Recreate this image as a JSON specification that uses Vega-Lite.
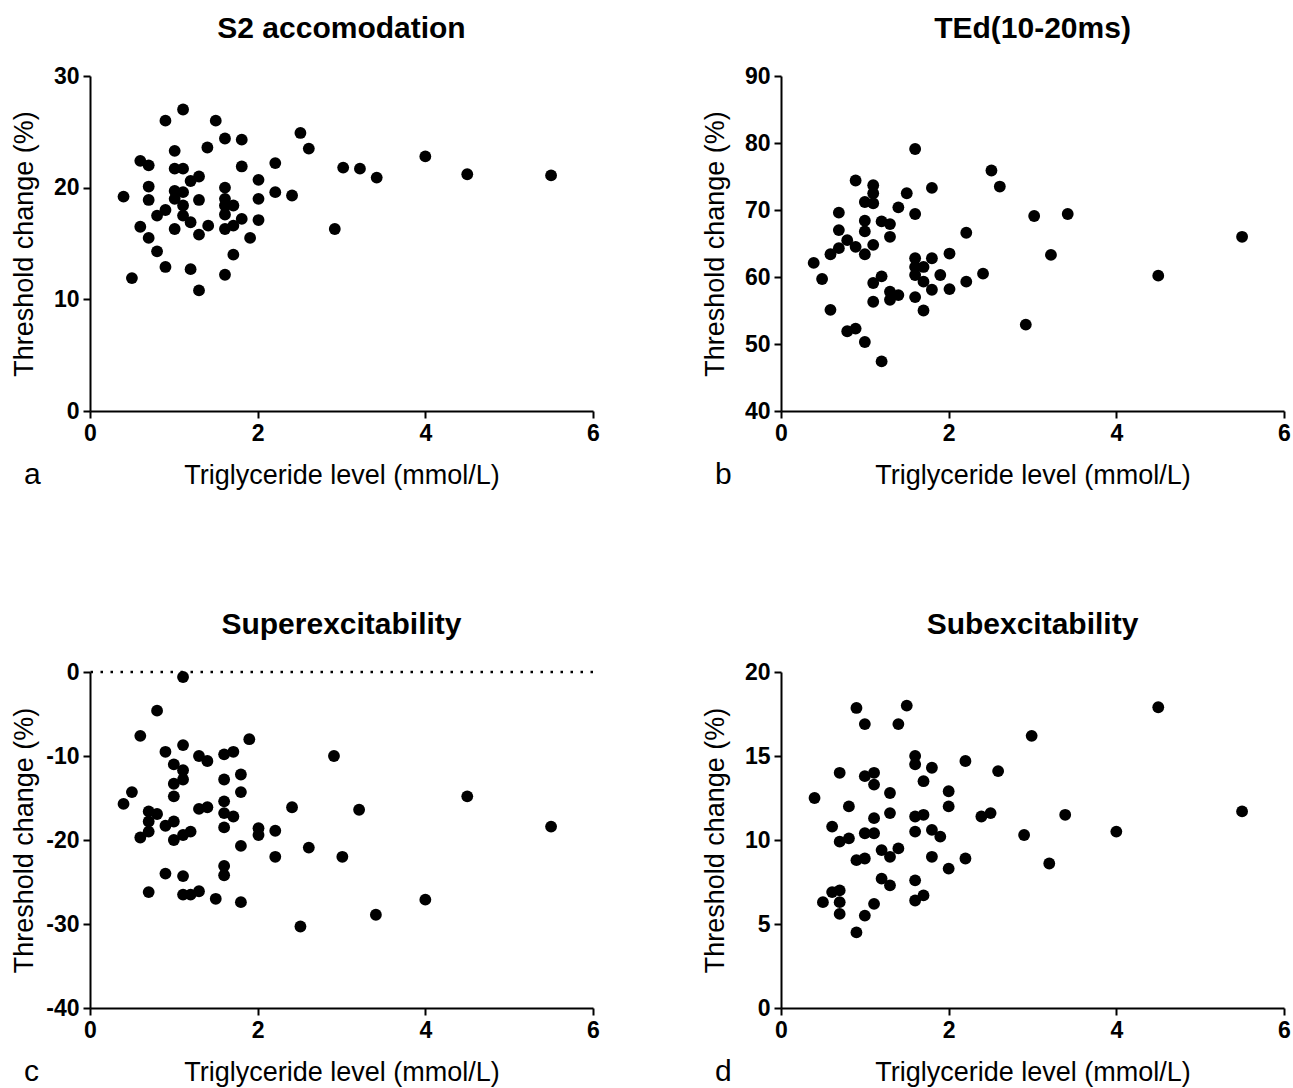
{
  "$schema": "https://vega.github.io/schema/vega-lite/v6.json",
  "background": "white",
  "padding": {"left": 10, "top": 14, "right": 0, "bottom": 0},
  "config": {
    "font": "Liberation Sans",
    "view": {"stroke": null},
    "axis": {
      "grid": false,
      "domainColor": "black",
      "domainWidth": 2,
      "tickColor": "black",
      "tickWidth": 2,
      "tickSize": 7,
      "labelFont": "Liberation Sans",
      "labelFontWeight": "bold",
      "labelFontSize": 23,
      "labelColor": "black",
      "labelPadding": 4,
      "labelFlush": false,
      "labelOverlap": false,
      "labelExpr": "'' + datum.value",
      "titleFont": "Liberation Sans",
      "titleFontWeight": "normal",
      "titleFontSize": 27,
      "titleColor": "black"
    },
    "axisX": {"titleY": 72, "titleBaseline": "alphabetic"},
    "axisY": {"titleX": -52},
    "title": {
      "font": "Liberation Sans",
      "fontSize": 30,
      "fontWeight": "bold",
      "color": "black",
      "baseline": "alphabetic",
      "offset": 21,
      "anchor": "middle"
    },
    "point": {"filled": true, "color": "black", "opacity": 1, "size": 140}
  },
  "datasets": {
    "a": [
      {"x": 1.11, "y": 27.0}, {"x": 0.90, "y": 26.0}, {"x": 1.50, "y": 26.0}, {"x": 1.61, "y": 24.4},
      {"x": 1.81, "y": 24.3}, {"x": 2.51, "y": 24.9}, {"x": 2.61, "y": 23.5}, {"x": 1.01, "y": 23.3},
      {"x": 1.40, "y": 23.6}, {"x": 0.60, "y": 22.4}, {"x": 0.70, "y": 22.0}, {"x": 1.01, "y": 21.7},
      {"x": 1.11, "y": 21.7}, {"x": 1.81, "y": 21.9}, {"x": 2.21, "y": 22.2}, {"x": 1.20, "y": 20.6},
      {"x": 1.30, "y": 21.0}, {"x": 2.01, "y": 20.7}, {"x": 3.02, "y": 21.8}, {"x": 3.22, "y": 21.7},
      {"x": 3.42, "y": 20.9}, {"x": 0.70, "y": 20.1}, {"x": 0.40, "y": 19.2}, {"x": 0.70, "y": 18.9},
      {"x": 1.01, "y": 19.7}, {"x": 1.11, "y": 19.6}, {"x": 1.01, "y": 19.0}, {"x": 1.11, "y": 18.4},
      {"x": 1.30, "y": 18.9}, {"x": 1.61, "y": 20.0}, {"x": 1.61, "y": 19.0}, {"x": 1.61, "y": 18.4},
      {"x": 1.71, "y": 18.4}, {"x": 1.61, "y": 17.6}, {"x": 2.01, "y": 19.0}, {"x": 2.21, "y": 19.6},
      {"x": 2.41, "y": 19.3}, {"x": 0.90, "y": 18.0}, {"x": 0.80, "y": 17.5}, {"x": 1.11, "y": 17.5},
      {"x": 1.20, "y": 16.9}, {"x": 1.41, "y": 16.6}, {"x": 0.60, "y": 16.5}, {"x": 1.01, "y": 16.3},
      {"x": 1.30, "y": 15.8}, {"x": 1.61, "y": 16.3}, {"x": 1.71, "y": 16.6}, {"x": 1.81, "y": 17.2},
      {"x": 2.01, "y": 17.1}, {"x": 1.91, "y": 15.5}, {"x": 0.70, "y": 15.5}, {"x": 0.80, "y": 14.3},
      {"x": 1.71, "y": 14.0}, {"x": 2.92, "y": 16.3}, {"x": 0.90, "y": 12.9}, {"x": 1.20, "y": 12.7},
      {"x": 1.61, "y": 12.2}, {"x": 0.50, "y": 11.9}, {"x": 1.30, "y": 10.8}, {"x": 4.0, "y": 22.8},
      {"x": 4.5, "y": 21.2}, {"x": 5.5, "y": 21.1}
    ],
    "b": [
      {"x": 1.60, "y": 79.1}, {"x": 2.51, "y": 75.9}, {"x": 2.61, "y": 73.5}, {"x": 0.89, "y": 74.4},
      {"x": 1.10, "y": 73.7}, {"x": 1.10, "y": 72.5}, {"x": 1.80, "y": 73.3}, {"x": 1.50, "y": 72.5},
      {"x": 1.00, "y": 71.2}, {"x": 1.10, "y": 71.0}, {"x": 1.40, "y": 70.4}, {"x": 0.69, "y": 69.6},
      {"x": 1.60, "y": 69.4}, {"x": 3.02, "y": 69.1}, {"x": 3.42, "y": 69.4}, {"x": 1.00, "y": 68.4},
      {"x": 1.20, "y": 68.3}, {"x": 1.30, "y": 67.9}, {"x": 1.00, "y": 66.8}, {"x": 0.69, "y": 67.0},
      {"x": 1.30, "y": 66.0}, {"x": 2.21, "y": 66.6}, {"x": 0.79, "y": 65.5}, {"x": 0.69, "y": 64.3},
      {"x": 0.89, "y": 64.5}, {"x": 1.00, "y": 63.4}, {"x": 1.10, "y": 64.8}, {"x": 0.59, "y": 63.4},
      {"x": 0.39, "y": 62.1}, {"x": 0.49, "y": 59.7}, {"x": 1.60, "y": 62.8}, {"x": 1.80, "y": 62.8},
      {"x": 2.01, "y": 63.5}, {"x": 1.60, "y": 61.5}, {"x": 1.70, "y": 61.5}, {"x": 1.60, "y": 60.3},
      {"x": 1.70, "y": 59.3}, {"x": 1.80, "y": 58.1}, {"x": 1.90, "y": 60.3}, {"x": 2.01, "y": 58.2},
      {"x": 2.21, "y": 59.3}, {"x": 2.41, "y": 60.5}, {"x": 3.22, "y": 63.3}, {"x": 1.20, "y": 60.1},
      {"x": 1.10, "y": 59.1}, {"x": 1.30, "y": 57.8}, {"x": 1.40, "y": 57.3}, {"x": 1.30, "y": 56.6},
      {"x": 1.10, "y": 56.3}, {"x": 1.60, "y": 57.0}, {"x": 1.70, "y": 55.0}, {"x": 0.59, "y": 55.1},
      {"x": 0.79, "y": 51.9}, {"x": 0.89, "y": 52.3}, {"x": 1.00, "y": 50.3}, {"x": 1.20, "y": 47.4},
      {"x": 2.92, "y": 52.9}, {"x": 4.5, "y": 60.2}, {"x": 5.5, "y": 66.0}
    ],
    "c": [
      {"x": 1.11, "y": -0.6}, {"x": 0.80, "y": -4.6}, {"x": 0.60, "y": -7.6}, {"x": 1.90, "y": -8.0},
      {"x": 0.90, "y": -9.5}, {"x": 1.11, "y": -8.7}, {"x": 1.30, "y": -10.0}, {"x": 1.40, "y": -10.6},
      {"x": 1.60, "y": -9.8}, {"x": 1.71, "y": -9.5}, {"x": 2.91, "y": -10.0}, {"x": 1.00, "y": -11.0},
      {"x": 1.11, "y": -11.7}, {"x": 1.11, "y": -12.8}, {"x": 1.00, "y": -13.3}, {"x": 1.00, "y": -14.8},
      {"x": 1.60, "y": -12.8}, {"x": 1.80, "y": -12.2}, {"x": 1.80, "y": -14.3}, {"x": 0.50, "y": -14.3},
      {"x": 0.40, "y": -15.7}, {"x": 1.60, "y": -15.4}, {"x": 1.30, "y": -16.3}, {"x": 1.40, "y": -16.1},
      {"x": 1.60, "y": -16.8}, {"x": 1.71, "y": -17.2}, {"x": 1.60, "y": -18.5}, {"x": 0.70, "y": -16.6},
      {"x": 0.80, "y": -16.9}, {"x": 0.70, "y": -17.8}, {"x": 0.70, "y": -19.0}, {"x": 0.60, "y": -19.7},
      {"x": 0.90, "y": -18.3}, {"x": 1.00, "y": -17.8}, {"x": 1.11, "y": -19.4}, {"x": 1.20, "y": -19.0},
      {"x": 1.00, "y": -20.0}, {"x": 2.41, "y": -16.1}, {"x": 3.21, "y": -16.4}, {"x": 2.01, "y": -18.6},
      {"x": 2.01, "y": -19.4}, {"x": 2.21, "y": -18.9}, {"x": 1.80, "y": -20.7}, {"x": 2.61, "y": -20.9},
      {"x": 2.21, "y": -22.0}, {"x": 3.01, "y": -22.0}, {"x": 1.60, "y": -23.1}, {"x": 1.60, "y": -24.2},
      {"x": 0.90, "y": -24.0}, {"x": 1.11, "y": -24.3}, {"x": 0.70, "y": -26.2}, {"x": 1.11, "y": -26.5},
      {"x": 1.20, "y": -26.5}, {"x": 1.30, "y": -26.1}, {"x": 1.50, "y": -27.0}, {"x": 1.80, "y": -27.4},
      {"x": 2.51, "y": -30.3}, {"x": 3.41, "y": -28.9}, {"x": 4.0, "y": -27.1}, {"x": 4.5, "y": -14.8},
      {"x": 5.5, "y": -18.4}
    ],
    "d": [
      {"x": 0.90, "y": 17.86}, {"x": 1.50, "y": 18.0}, {"x": 1.00, "y": 16.9}, {"x": 1.40, "y": 16.9},
      {"x": 2.99, "y": 16.2}, {"x": 1.60, "y": 15.0}, {"x": 1.60, "y": 14.5}, {"x": 1.80, "y": 14.3},
      {"x": 2.20, "y": 14.7}, {"x": 2.59, "y": 14.1}, {"x": 0.70, "y": 14.0}, {"x": 1.00, "y": 13.8},
      {"x": 1.11, "y": 14.0}, {"x": 1.11, "y": 13.3}, {"x": 1.70, "y": 13.5}, {"x": 1.30, "y": 12.8},
      {"x": 2.00, "y": 12.9}, {"x": 0.40, "y": 12.5}, {"x": 0.81, "y": 12.0}, {"x": 2.00, "y": 12.0},
      {"x": 1.11, "y": 11.3}, {"x": 1.30, "y": 11.6}, {"x": 1.60, "y": 11.4}, {"x": 1.70, "y": 11.5},
      {"x": 2.39, "y": 11.4}, {"x": 2.50, "y": 11.6}, {"x": 3.39, "y": 11.5}, {"x": 0.61, "y": 10.8},
      {"x": 1.60, "y": 10.5}, {"x": 1.80, "y": 10.6}, {"x": 1.90, "y": 10.2}, {"x": 1.00, "y": 10.4},
      {"x": 1.11, "y": 10.4}, {"x": 0.70, "y": 9.9}, {"x": 0.81, "y": 10.1}, {"x": 2.90, "y": 10.3},
      {"x": 1.20, "y": 9.4}, {"x": 1.40, "y": 9.5}, {"x": 1.30, "y": 9.0}, {"x": 0.90, "y": 8.8},
      {"x": 1.00, "y": 8.9}, {"x": 1.80, "y": 9.0}, {"x": 2.20, "y": 8.9}, {"x": 2.00, "y": 8.3},
      {"x": 3.20, "y": 8.6}, {"x": 1.20, "y": 7.7}, {"x": 1.30, "y": 7.3}, {"x": 1.60, "y": 7.6},
      {"x": 1.60, "y": 6.4}, {"x": 1.70, "y": 6.7}, {"x": 0.61, "y": 6.9}, {"x": 0.70, "y": 7.0},
      {"x": 0.50, "y": 6.3}, {"x": 0.70, "y": 6.3}, {"x": 0.70, "y": 5.6}, {"x": 1.11, "y": 6.2},
      {"x": 1.00, "y": 5.5}, {"x": 0.90, "y": 4.5}, {"x": 4.5, "y": 17.9}, {"x": 5.5, "y": 11.7},
      {"x": 4.0, "y": 10.5}
    ]
  },
  "vconcat": [
    {
      "hconcat": [
        {
          "title": {"text": "a", "orient": "bottom", "anchor": "start", "frame": "bounds", "fontSize": 30, "fontWeight": "normal", "baseline": "alphabetic", "offset": -4, "dx": 14},
          "vconcat": [
            {
              "title": "S2 accomodation",
              "width": 503,
              "height": 335,
              "data": {"name": "a"},
              "mark": {"type": "point"},
              "encoding": {
                "x": {"field": "x", "type": "quantitative", "scale": {"domain": [0, 6], "nice": false}, "axis": {"values": [0, 2, 4, 6], "title": "Triglyceride level (mmol/L)"}},
                "y": {"field": "y", "type": "quantitative", "scale": {"domain": [0, 30], "nice": false}, "axis": {"values": [0, 10, 20, 30], "title": "Threshold change (%)"}}
              }
            }
          ]
        },
        {
          "title": {"text": "b", "orient": "bottom", "anchor": "start", "frame": "bounds", "fontSize": 30, "fontWeight": "normal", "baseline": "alphabetic", "offset": -4, "dx": 14},
          "vconcat": [
            {
              "title": "TEd(10-20ms)",
              "width": 503,
              "height": 335,
              "data": {"name": "b"},
              "mark": {"type": "point"},
              "encoding": {
                "x": {"field": "x", "type": "quantitative", "scale": {"domain": [0, 6], "nice": false}, "axis": {"values": [0, 2, 4, 6], "title": "Triglyceride level (mmol/L)"}},
                "y": {"field": "y", "type": "quantitative", "scale": {"domain": [40, 90], "nice": false, "zero": false}, "axis": {"values": [40, 50, 60, 70, 80, 90], "title": "Threshold change (%)"}}
              }
            }
          ]
        }
      ],
      "spacing": 101
    },
    {
      "hconcat": [
        {
          "title": {"text": "c", "orient": "bottom", "anchor": "start", "frame": "bounds", "fontSize": 30, "fontWeight": "normal", "baseline": "alphabetic", "offset": -4, "dx": 14},
          "vconcat": [
            {
              "title": "Superexcitability",
              "width": 503,
              "height": 336,
              "layer": [
                {
                  "data": {"values": [{"ref": 0}]},
                  "mark": {"type": "rule", "color": "black", "strokeWidth": 2.5, "strokeDash": [2.5, 7.5]},
                  "encoding": {"y": {"field": "ref", "type": "quantitative"}}
                },
                {
                  "data": {"name": "c"},
                  "mark": {"type": "point"},
                  "encoding": {
                    "x": {"field": "x", "type": "quantitative", "scale": {"domain": [0, 6], "nice": false}, "axis": {"values": [0, 2, 4, 6], "title": "Triglyceride level (mmol/L)"}},
                    "y": {"field": "y", "type": "quantitative", "scale": {"domain": [-40, 0], "nice": false}, "axis": {"values": [-40, -30, -20, -10, 0], "title": "Threshold change (%)"}}
                  }
                }
              ]
            }
          ]
        },
        {
          "title": {"text": "d", "orient": "bottom", "anchor": "start", "frame": "bounds", "fontSize": 30, "fontWeight": "normal", "baseline": "alphabetic", "offset": -4, "dx": 14},
          "vconcat": [
            {
              "title": "Subexcitability",
              "width": 503,
              "height": 336,
              "data": {"name": "d"},
              "mark": {"type": "point"},
              "encoding": {
                "x": {"field": "x", "type": "quantitative", "scale": {"domain": [0, 6], "nice": false}, "axis": {"values": [0, 2, 4, 6], "title": "Triglyceride level (mmol/L)"}},
                "y": {"field": "y", "type": "quantitative", "scale": {"domain": [0, 20], "nice": false}, "axis": {"values": [0, 5, 10, 15, 20], "title": "Threshold change (%)"}}
              }
            }
          ]
        }
      ],
      "spacing": 101
    }
  ],
  "spacing": 120
}
